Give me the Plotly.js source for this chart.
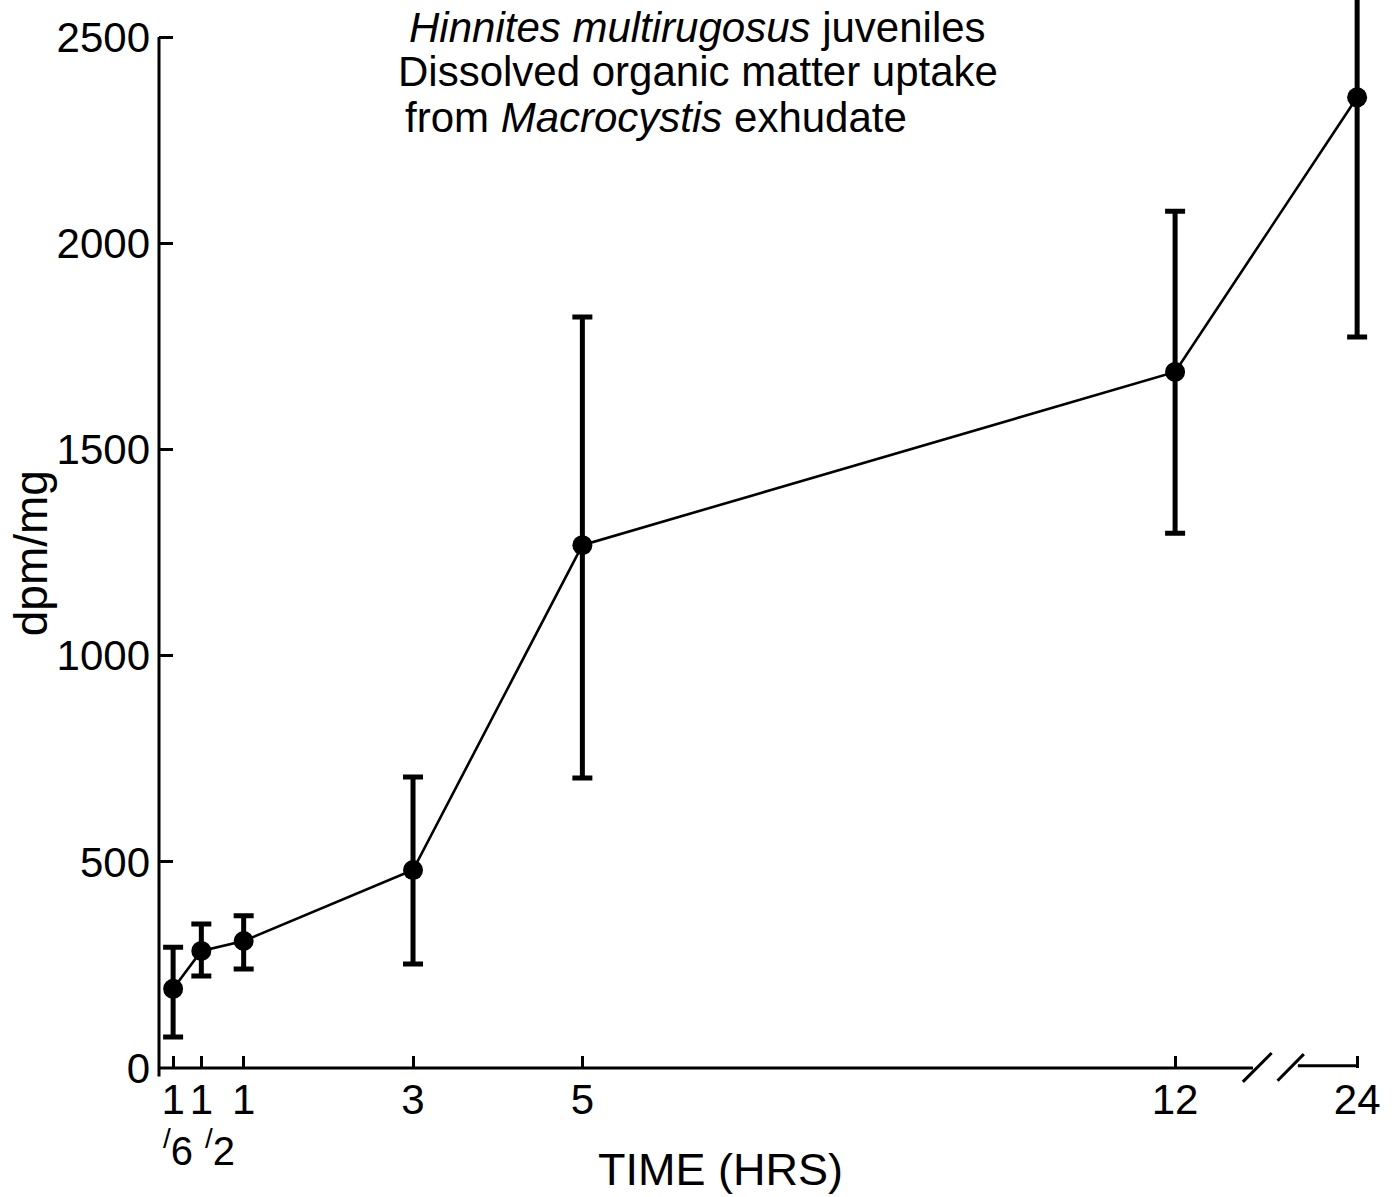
<!DOCTYPE html>
<html><head><meta charset="utf-8">
<script src="https://cdn.plot.ly/plotly-3.0.1.min.js"></script>
<style>html,body{margin:0;padding:0;background:#fff}#chart{width:1398px;height:1197px}</style>
</head><body><div id="chart"></div>
<script>
// ---- data ----
const timeHours = [1/6, 1/2, 1, 3, 5, 12, 24];
const tickNumerators = ["1", "1", "1", "3", "5", "12", "24"];
const fractionDenominators = ["6", "2"];
const uptakeDpmPerMg = [192, 284, 308, 480, 1268, 1688, 2354];
const errorUpper = [101, 65, 61, 226, 553, 390, 581];
const errorLower = [117, 61, 68, 228, 565, 391, 581];
const yTickValues = [0, 500, 1000, 1500, 2000, 2500];

// ---- broken time axis: everything past 12 h is compressed ----
const BREAK_AT = 12, BREAK_COMPRESS = 2.15 / 12;
function axisPos(t) { return t <= BREAK_AT ? t : BREAK_AT + (t - BREAK_AT) * BREAK_COMPRESS; }

const X_MAX = 14.42, Y_MAX = 2590;
const FONT = "Liberation Sans, Arial, Helvetica, sans-serif";
const xp = v => v / X_MAX;   // axis value -> paper
const yp = v => v / Y_MAX;

const trace = {
  x: timeHours.map(axisPos),
  y: uptakeDpmPerMg,
  type: 'scatter',
  mode: 'lines+markers',
  line: {color: '#000', width: 2.6},
  marker: {color: '#000', size: 20},
  error_y: {type: 'data', symmetric: false, array: errorUpper, arrayminus: errorLower,
            color: '#000', thickness: 5, width: 10},
  cliponaxis: false,
  hoverinfo: 'x+y'
};

const lineStyle = {color: '#000', width: 3};
const shapes = [
  // y axis line (stops at 2500)
  {type: 'line', xref: 'paper', yref: 'paper', x0: 0, x1: 0, y0: -0.008, y1: yp(2500), line: lineStyle},
  // x axis, left part up to the break
  {type: 'line', xref: 'paper', yref: 'paper', x0: 0, x1: xp(12.92), y0: 0, y1: 0, line: lineStyle},
  // break marks
  {type: 'line', xref: 'paper', yref: 'paper', x0: xp(12.80), x1: xp(13.14), y0: -0.013, y1: 0.014, line: lineStyle},
  {type: 'line', xref: 'paper', yref: 'paper', x0: xp(13.21), x1: xp(13.52), y0: -0.012, y1: 0.013, line: lineStyle},
  // x axis, right part after the break
  {type: 'line', xref: 'paper', yref: 'paper', x0: xp(13.45), x1: xp(axisPos(24)), y0: 0.002, y1: 0.002, line: lineStyle}
];

const titleFont = {family: FONT, size: 42, color: '#000'};
const annotations = [
  {text: '<i>Hinnites multirugosus</i> juveniles', x: 0.2035, y: 0.9747},
  {text: 'Dissolved organic matter uptake', x: 0.1945, y: 0.9326},
  {text: 'from <i>Macrocystis</i> exhudate', x: 0.1995, y: 0.8904}
].map(a => Object.assign({xref: 'paper', yref: 'paper', xanchor: 'left', yanchor: 'middle',
                          showarrow: false, font: titleFont}, a));

annotations.push(
  {text: 'TIME (HRS)', xref: 'paper', yref: 'paper', x: 0.4595, y: -0.0955,
   xanchor: 'center', yanchor: 'middle', showarrow: false, font: {family: FONT, size: 45, color: '#000'}},
  {text: 'dpm/mg', xref: 'paper', yref: 'paper', x: -0.1048, y: 0.482, textangle: -90,
   xanchor: 'center', yanchor: 'middle', showarrow: false, font: {family: FONT, size: 46, color: '#000'}},
  {text: '<sup>/</sup>' + fractionDenominators[0], xref: 'paper', yref: 'paper',
   x: xp(axisPos(timeHours[0])), xshift: -12, y: -0.0749, xanchor: 'left', yanchor: 'middle',
   showarrow: false, font: {family: FONT, size: 40, color: '#000'}},
  {text: '<sup>/</sup>' + fractionDenominators[1], xref: 'paper', yref: 'paper',
   x: xp(axisPos(timeHours[1])), xshift: 2, y: -0.0749, xanchor: 'left', yanchor: 'middle',
   showarrow: false, font: {family: FONT, size: 40, color: '#000'}}
);

const layout = {
  width: 1398, height: 1197,
  margin: {l: 159, r: 18, t: 0, b: 129},
  paper_bgcolor: '#fff', plot_bgcolor: '#fff',
  showlegend: false,
  font: {family: FONT, color: '#000'},
  xaxis: {
    range: [0, X_MAX], showline: false, showgrid: false, zeroline: false,
    tickmode: 'array', tickvals: timeHours.map(axisPos), ticktext: tickNumerators,
    tickangle: 0, ticklabeloverflow: 'allow',
    ticks: 'inside', ticklen: 12, tickwidth: 3, tickcolor: '#000',
    tickfont: {family: FONT, size: 42, color: '#000'}, ticklabelstandoff: 3
  },
  yaxis: {
    range: [0, Y_MAX], showline: false, showgrid: false, zeroline: false,
    tickmode: 'array', tickvals: yTickValues, ticktext: yTickValues.map(String),
    ticks: 'inside', ticklen: 14, tickwidth: 3, tickcolor: '#000',
    tickfont: {family: FONT, size: 42, color: '#000'}, ticklabelstandoff: 8
  },
  shapes: shapes,
  annotations: annotations
};

Plotly.newPlot('chart', [trace], layout, {displayModeBar: false, staticPlot: true});
</script>
</body></html>
